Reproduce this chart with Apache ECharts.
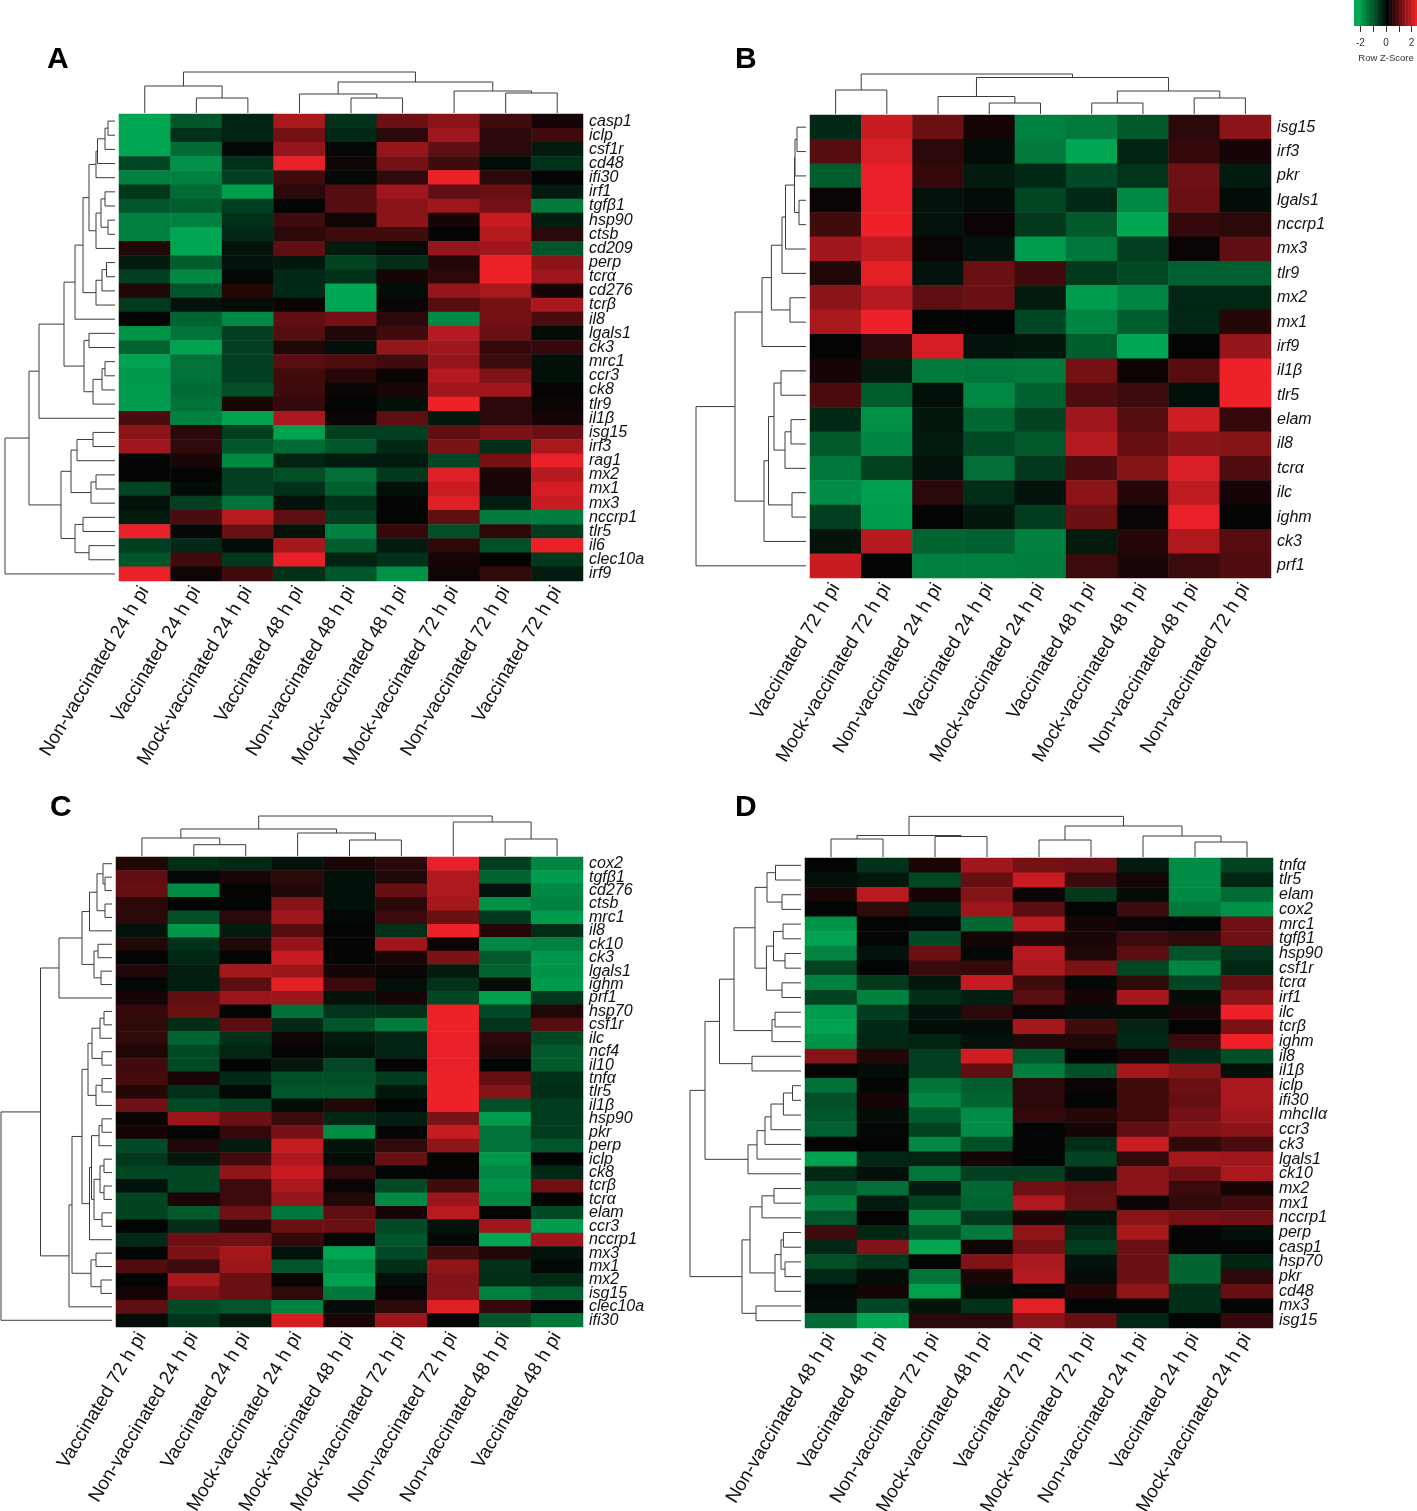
<!DOCTYPE html>
<html>
<head>
<meta charset="utf-8">
<script src="https://cdn.jsdelivr.net/npm/echarts@6/dist/echarts.min.js"></script>
<style>
html, body { margin: 0; padding: 0; background: #fff; }
#main { width: 1417px; height: 1511px; }
</style>
</head>
<body>
<div id="main"></div>
<script>
// row z-scores, one row per gene
var colsA = ['Non-vaccinated 24 h pi', 'Vaccinated 24 h pi', 'Mock-vaccinated 24 h pi', 'Vaccinated 48 h pi', 'Non-vaccinated 48 h pi', 'Mock-vaccinated 48 h pi', 'Mock-vaccinated 72 h pi', 'Non-vaccinated 72 h pi', 'Vaccinated 72 h pi'];
var rowsA = ['casp1', 'iclp', 'csf1r', 'cd48', 'ifi30', 'irf1', 'tgfβ1', 'hsp90', 'ctsb', 'cd209', 'perp', 'tcrα', 'cd276', 'tcrβ', 'il8', 'lgals1', 'ck3', 'mrc1', 'ccr3', 'ck8', 'tlr9', 'il1β', 'isg15', 'irf3', 'rag1', 'mx2', 'mx1', 'mx3', 'nccrp1', 'tlr5', 'il6', 'clec10a', 'irf9'];
var valuesA = [
  [-2.2, -1.1, -0.4, 1.6, -0.6, 1.0, 1.3, 0.6, 0.2],
  [-2.2, -0.6, -0.4, 1.1, -0.5, 0.4, 1.5, 0.4, 0.6],
  [-2.2, -1.4, -0.05, 1.4, -0.05, 1.4, 0.9, 0.4, -0.3],
  [-0.9, -1.9, -0.6, 2.2, 0.15, 1.1, 0.6, -0.1, -0.6],
  [-1.7, -1.7, -0.8, 0.6, -0.05, 0.45, 2.3, 0.4, 0],
  [-0.7, -1.4, -2.1, 0.4, 0.8, 1.5, 0.9, 1.0, -0.3],
  [-1.1, -1.2, -0.8, 0, 0.8, 1.3, 1.5, 1.1, -1.6],
  [-1.7, -1.7, -0.6, 0.6, 0.15, 1.3, 0.2, 1.9, -0.3],
  [-1.7, -2.2, -0.5, 0.4, 0.6, 0.6, 0, 1.7, 0.4],
  [0.3, -2.2, -0.2, 0.9, -0.3, -0.1, 1.4, 1.5, -1.1],
  [-0.3, -1.2, -0.2, -0.25, -0.85, -0.55, 0.3, 2.25, 1.3],
  [-0.8, -1.8, -0.05, -0.5, -0.6, 0.2, 0.4, 2.25, 1.5],
  [0.3, -1.1, 0.35, -0.5, -2.2, -0.1, 1.4, 1.6, 0.2],
  [-0.7, -0.2, -0.1, 0.1, -2.2, 0.1, 0.8, 1.1, 1.6],
  [0, -1.3, -1.8, 0.9, 1.1, 0.4, -1.8, 1.1, 0.7],
  [-1.95, -1.5, -0.8, 0.8, 0.3, 0.6, 1.7, 1.0, -0.1],
  [-1.3, -2.15, -0.8, 0.3, -0.15, 1.4, 1.5, 0.5, 0.5],
  [-2.15, -1.5, -0.8, 0.85, 0.75, 0.6, 1.4, 0.55, -0.15],
  [-2.0, -1.5, -0.8, 0.6, 0.35, 0.1, 1.7, 1.2, -0.15],
  [-2.05, -1.4, -1.0, 0.6, 0.1, 0.25, 1.5, 1.5, 0.05],
  [-2.05, -1.5, 0.25, 0.5, 0, -0.15, 2.25, 0.4, 0.1],
  [0.7, -1.7, -2.15, 1.6, 0.1, 0.9, -0.25, 0.4, 0.2],
  [1.3, 0.4, -0.8, -2.15, -0.8, -0.8, 0.9, 1.15, 1.0],
  [1.5, 0.45, -1.1, -1.4, -1.1, -0.5, 1.15, -0.55, 1.6],
  [0, 0.25, -1.8, -0.4, -0.3, -0.3, -0.9, 1.1, 2.2],
  [0, 0, -0.8, -1.0, -1.45, -0.7, 2.1, 0.25, 1.7],
  [-0.85, -0.1, -0.8, -0.6, -1.25, -0.15, 1.9, 0.2, 2.0],
  [-0.2, -0.8, -1.5, -0.2, -0.6, 0, 2.1, -0.35, 1.9],
  [-0.3, 0.7, 1.75, 0.9, -0.8, 0, 0.9, -1.6, -1.65],
  [2.2, -0.05, 1.0, -0.2, -1.7, 0.5, -1.0, 0.4, -0.75],
  [-0.8, -0.5, -0.1, 1.55, -1.2, -0.3, 0.4, -1.0, 2.2],
  [-1.1, 0.6, -0.7, 2.2, -0.4, -0.6, 0.2, 0.05, -0.7],
  [2.2, 0.15, 0.6, -0.6, -1.1, -1.9, 0.15, 0.45, -0.3]
];
// trees are nested [left, right, height], a number is a leaf index
var colTreeA = [[0, [1, 2, 16], 28], [[3, [4, 5, 16], 20], [6, [7, 8, 21], 23], 32], 42];
var a04 = [[[[0, 1, 11], 2, 14], 3, 21.5], 4, 23];
var a59 = [[[5, 6, 14], [7, 8, 11], 18], 9, 23];
var a1013 = [[[10, 11, 12.5], 12, 17], 13, 23];
var a014 = [[[a04, a59, 30], a1013, 36], 14, 44];
var a1520 = [[15, 16, 30], [[[17, 18, 14], 19, 17], 20, 26], 35];
var a021 = [[a014, a1520, 55], 21, 80];
var a2231 = [[[[22, 23, 26], 24, 42], [[25, 26, 23], 27, 28], 48], [[28, 29, 36], [30, 31, 30], 44], 58];
var rowTreeA = [[a021, a2231, 90], 32, 114];

var colsB = ['Vaccinated 72 h pi', 'Mock-vaccinated 72 h pi', 'Non-vaccinated 24 h pi', 'Vaccinated 24 h pi', 'Mock-vaccinated 24 h pi', 'Vaccinated 48 h pi', 'Mock-vaccinated 48 h pi', 'Non-vaccinated 48 h pi', 'Non-vaccinated 72 h pi'];
var rowsB = ['isg15', 'irf3', 'pkr', 'lgals1', 'nccrp1', 'mx3', 'tlr9', 'mx2', 'mx1', 'irf9', 'il1β', 'tlr5', 'elam', 'il8', 'tcrα', 'ilc', 'ighm', 'ck3', 'prf1'];
var valuesB = [
  [-0.5, 1.9, 1.0, 0.2, -1.7, -1.6, -1.15, 0.4, 1.3],
  [0.8, 2.05, 0.4, -0.1, -1.6, -2.2, -0.4, 0.5, 0.2],
  [-1.2, 2.2, 0.5, -0.3, -0.5, -0.95, -0.65, 1.05, -0.3],
  [0.1, 2.2, -0.2, -0.1, -0.9, -0.5, -1.8, 1.0, -0.1],
  [0.6, 2.25, -0.2, 0.1, -0.7, -1.15, -2.2, 0.5, 0.4],
  [1.5, 1.8, 0.1, -0.2, -2.05, -1.55, -0.8, 0.1, 0.9],
  [0.3, 2.15, -0.2, 1.0, 0.6, -0.7, -0.95, -1.25, -1.25],
  [1.3, 1.7, 0.9, 1.0, -0.3, -2.05, -1.75, -0.45, -0.45],
  [1.6, 2.3, 0, 0, -0.9, -1.75, -1.2, -0.45, 0.35],
  [0, 0.4, 2.0, -0.2, -0.25, -1.2, -2.2, 0, 1.4],
  [0.2, -0.3, -1.6, -1.55, -1.6, 1.1, 0.1, 0.8, 2.25],
  [0.7, -1.2, -0.15, -1.8, -1.25, 0.75, 0.55, -0.15, 2.25],
  [-0.5, -1.9, -0.25, -1.35, -0.85, 1.5, 0.8, 1.95, 0.5],
  [-1.15, -1.75, -0.3, -0.95, -1.15, 1.7, 0.95, 1.3, 1.25],
  [-1.55, -0.85, -0.2, -1.45, -0.7, 0.7, 1.25, 2.05, 0.75],
  [-1.85, -2.1, 0.4, -0.55, -0.2, 1.3, 0.35, 1.8, 0.2],
  [-0.8, -2.05, 0, -0.25, -0.75, 1.0, 0.1, 2.2, 0],
  [-0.2, 1.7, -1.3, -1.25, -1.7, -0.3, 0.35, 1.65, 0.8],
  [1.9, 0, -1.7, -1.7, -1.65, 0.55, 0.25, 0.55, 0.75]
];
var colTreeB = [[0, 1, 25], [[2, [3, 4, 12], 18.5], [[5, 6, 12], [7, 8, 17], 24], 37.5], 41];
var b04 = [[[0, 1, 13], 2, 15], [3, 4, 11], 15.5];
var b09 = [[[[b04, 5, 24.5], 6, 28], [7, 8, 20], 38.6], 9, 48];
var b1017 = [[[[10, 11, 29], [[12, 13, 19], 14, 25], 36], [15, 16, 18], 41.5], 17, 46];
var rowTreeB = [[b09, b1017, 75], 18, 114];

var colsC = ['Vaccinated 72 h pi', 'Non-vaccinated 24 h pi', 'Vaccinated 24 h pi', 'Mock-vaccinated 24 h pi', 'Mock-vaccinated 48 h pi', 'Mock-vaccinated 72 h pi', 'Non-vaccinated 72 h pi', 'Non-vaccinated 48 h pi', 'Vaccinated 48 h pi'];
var rowsC = ['cox2', 'tgfβ1', 'cd276', 'ctsb', 'mrc1', 'il8', 'ck10', 'ck3', 'lgals1', 'ighm', 'prf1', 'hsp70', 'csf1r', 'ilc', 'ncf4', 'il10', 'tnfα', 'tlr5', 'il1β', 'hsp90', 'pkr', 'perp', 'iclp', 'ck8', 'tcrβ', 'tcrα', 'elam', 'ccr3', 'nccrp1', 'mx3', 'mx1', 'mx2', 'isg15', 'clec10a', 'ifi30'];
var valuesC = [
  [0.3, -0.55, -0.5, -0.2, 0.25, 0.4, 2.2, -0.8, -1.75],
  [0.9, -0.05, 0.25, 0.4, -0.15, 0.3, 1.65, -1.3, -2.05],
  [0.95, -1.85, 0.05, 0.3, -0.15, 0.95, 1.65, -0.2, -1.8],
  [0.4, 0, 0, 1.25, -0.15, 0.4, 1.55, -1.9, -1.7],
  [0.4, -1.0, 0.4, 1.5, -0.05, 0.55, 1.0, -0.7, -2.05],
  [-0.2, -2.0, -0.3, 0.8, 0.05, -0.6, 2.25, 0.35, -0.55],
  [0.3, -0.6, 0.3, 1.4, 0.05, 1.5, 0.1, -1.8, -1.7],
  [0, -0.45, 0, 1.9, 0, 0.25, 1.15, -1.15, -2.0],
  [0.3, -0.35, 1.55, 1.45, 0.2, 0.1, -0.3, -1.3, -1.95],
  [-0.05, -0.35, 0.85, 2.15, 0.55, -0.15, -0.6, -0.1, -2.05],
  [0.2, 0.9, 1.45, 1.45, -0.2, 0.2, -0.9, -2.1, -0.7],
  [0.5, 1.0, 0, -1.45, -0.65, -0.6, 2.25, -0.95, 0.3],
  [0.45, -0.55, 0.85, -0.5, -1.1, -1.6, 2.25, -0.65, 0.8],
  [0.45, -1.3, -0.6, 0.15, -0.3, -0.4, 2.2, 0.4, -0.9],
  [0.3, -0.95, -0.45, 0, -0.2, -0.4, 2.2, 0.3, -1.15],
  [0.6, -0.95, 0, -0.25, -0.9, 0, 2.2, 0, -1.15],
  [0.65, 0.25, -0.5, -1.0, -1.0, -0.75, 2.25, 0.95, -0.6],
  [0.35, -0.6, -0.05, -1.1, -1.1, -0.25, 2.25, 1.25, -0.55],
  [1.05, -0.95, -0.8, -0.1, 0.3, 0, 2.25, -1.0, -0.75],
  [0.1, 1.45, 1.0, 0.55, -0.45, -0.35, 1.15, -2.05, -0.75],
  [0.2, 0, 0.5, 1.1, -1.85, 0, 1.85, -1.5, -0.75],
  [-0.95, 0.3, -0.3, 1.85, -0.2, 0.45, 1.35, -1.5, -1.1],
  [-0.7, -0.25, 0.6, 1.65, -0.1, 0.95, 0.05, -2.0, 0],
  [-0.9, -0.9, 1.35, 1.9, 0.45, 0, 0.05, -1.8, -0.5],
  [-0.2, -0.9, 0.55, 1.6, 0.1, -0.95, 0.6, -1.95, 1.05],
  [-0.85, 0.25, 0.55, 1.4, 0.3, -1.8, 1.45, -1.8, 0],
  [-0.85, -1.15, 1.05, -1.55, 0.9, 0.2, 1.75, 0, -0.95],
  [0, -0.55, 0.35, 1.0, 1.0, -0.95, -0.2, 1.5, -2.05],
  [-0.5, 1.05, 1.05, 0.5, -0.05, -1.1, -0.05, -2.2, 1.5],
  [0, 1.15, 1.55, -0.2, -2.2, -0.95, 0.6, 0.3, -0.2],
  [0.75, 0.55, 1.45, -1.1, -1.9, -0.55, 1.35, -0.6, -0.05],
  [0, 1.6, 1.0, 0.1, -2.15, -0.15, 1.2, -0.55, -0.5],
  [0.2, 1.2, 1.0, 0.45, -1.55, 0.1, 1.25, -1.7, -1.25],
  [0.9, -0.95, -1.1, -1.7, -0.1, 0.4, 2.1, 0.5, 0],
  [-0.1, -0.65, -0.25, 2.0, 0.25, 1.45, 0, -1.1, -1.55]
];
var colTreeC = [[[0, [1, 2, 12.3], 19], [3, [4, 5, 17], 24], 28], [6, [7, 8, 18], 35], 41];
var c05 = [[[0, [1, 2, 11], 13], [3, 4, 11], 19], 5, 26.5];
var c010 = [[c05, [[6, 7, 18], [8, 9, 15], 22], 34], 10, 57];
var c1118 = [[[[11, 12, 12], 13, 16], [14, 15, 14], 24], [[16, 17, 14], 18, 20], 28];
var c1928 = [[[[19, 20, 14], 21, 17], [[[22, 23, 12], [24, 25, 12], 16], [26, 27, 14], 22], 24.5], 28, 26.5];
var c2932 = [[29, 30, 20], [31, 32, 15], 25];
var c1133 = [[[c1118, c1928, 34], c2932, 44], 33, 47];
var rowTreeC = [[c010, c1133, 75.5], 34, 115];

var colsD = ['Non-vaccinated 48 h pi', 'Vaccinated 48 h pi', 'Non-vaccinated 72 h pi', 'Mock-vaccinated 48 h pi', 'Vaccinated 72 h pi', 'Mock-vaccinated 72 h pi', 'Non-vaccinated 24 h pi', 'Vaccinated 24 h pi', 'Mock-vaccinated 24 h pi'];
var rowsD = ['tnfα', 'tlr5', 'elam', 'cox2', 'mrc1', 'tgfβ1', 'hsp90', 'csf1r', 'tcrα', 'irf1', 'ilc', 'tcrβ', 'ighm', 'il8', 'il1β', 'iclp', 'ifi30', 'mhcIIα', 'ccr3', 'ck3', 'lgals1', 'ck10', 'mx2', 'mx1', 'nccrp1', 'perp', 'casp1', 'hsp70', 'pkr', 'cd48', 'mx3', 'isg15'];
var valuesD = [
  [0, -0.6, 0.25, 1.5, 1.1, 1.05, -0.3, -1.85, -0.85],
  [-0.15, -0.25, -0.9, 0.95, 1.9, 0.55, 0.2, -1.85, -0.45],
  [0.25, 1.75, 0.2, 1.25, 0.1, -0.7, -0.1, -1.8, -1.4],
  [0, 0.45, -0.4, 1.5, 0.85, 0, 0.55, -1.6, -1.9],
  [-1.95, 0, -0.05, -1.35, 1.75, 0.2, 0.1, 0, 1.05],
  [-2.15, 0, -0.95, 0.2, 0.3, 0.25, 0.55, 0.45, 1.05],
  [-1.75, -0.2, 1.0, -0.05, 1.7, 0.3, 0.85, -1.05, -0.65],
  [-0.85, 0, 0.55, 0.5, 1.6, 1.15, -0.9, -1.75, -0.45],
  [-1.7, -0.7, -0.25, 1.85, 0.6, -0.05, 0.45, -0.9, 0.95],
  [-0.85, -1.7, -0.55, -0.35, 0.85, 0.2, 1.55, -0.1, 1.3],
  [-2.05, -0.75, -0.2, 0.4, 0.1, -0.1, -0.1, 0.25, 2.3],
  [-2.15, -0.5, -0.1, -0.1, 1.55, 0.6, -0.4, 0, 1.15],
  [-1.95, -0.45, -0.4, -0.2, 0.3, 0.3, -0.5, 0.55, 2.3],
  [1.25, 0.3, -0.8, 1.95, -1.15, 0, 0.2, -0.5, -1.0],
  [0, -0.1, -0.8, 0.9, -1.65, -1.0, 1.55, 1.25, -0.15],
  [-1.45, 0, -1.5, -1.2, 0.4, 0.1, 0.6, 1.0, 1.6],
  [-1.0, 0.2, -1.75, -1.3, 0.4, 0, 0.6, 0.95, 1.6],
  [-1.1, -0.1, -1.2, -1.85, 0.5, 0.35, 0.6, 1.1, 1.5],
  [-1.25, -0.05, -0.85, -1.85, 0, 0.2, 0.9, 1.2, 1.3],
  [0, 0.05, -1.8, -1.0, 0, -0.55, 1.9, 0.45, 0.7],
  [-2.15, -0.45, -0.4, 0.2, 0, -0.85, 0.45, 1.55, 1.5],
  [-0.5, -0.15, -1.55, -0.8, -0.8, -0.2, 1.3, 1.05, 1.6],
  [-1.2, -1.45, -0.3, -1.35, 1.05, 0.9, 1.3, 0.55, 0.2],
  [-1.65, -0.3, -0.85, -1.3, 1.65, 0.95, 0.1, 0.45, 0.6],
  [-1.1, 0, -1.8, -0.7, 0.25, -0.2, 1.3, 1.1, 1.05],
  [0.6, -0.45, -1.05, -1.6, 1.35, -0.5, 1.6, 0, -0.15],
  [-0.45, 1.2, -2.2, 0.15, 1.1, -0.75, 1.0, 0, 0],
  [-1.0, -0.7, 0, 1.2, 1.6, -0.2, 1.0, -1.3, -0.4],
  [-0.45, -0.1, -1.5, 0.25, 1.7, -0.1, 1.0, -1.3, 0.4],
  [-0.05, 0.2, -2.1, -0.1, -0.05, 0.35, 1.35, -0.55, 0.95],
  [-0.1, -0.9, -0.2, -0.6, 2.15, 0, 0, -0.55, 0],
  [-1.4, -2.2, 0.4, 0.4, 1.3, 0.95, -0.45, 0, 0.5]
];
var colTreeD = [[[0, 1, 19], [2, 3, 21.5], 22.5], [[4, 5, 18], [6, [7, 8, 16], 22], 32], 41.6];
var d03 = [[0, 1, 29.5], [2, 3, 23], 38];
var d49 = [[[4, 5, 22], [6, 7, 20], 31.5], [8, 9, 23], 38.6];
var d014 = [[[d03, d49, 50], [[10, 11, 30], 12, 33], 71], [13, 14, 53], 85.5];
var d1521 = [[[[[[15, 16, 12.5], 17, 21.6], 18, 34], 19, 40], 20, 48], 21, 57];
var d2231 = [[[[22, 23, 31], 24, 43], [[[25, 26, 21.6], [27, 28, 20], 24], 29, 30], 55], [30, 31, 49], 63];
var rowTreeD = [[d014, d1521, 100], d2231, 115];

var keyLevels = [-2.5, -2.25, -2, -1.75, -1.5, -1.25, -1, -0.75, -0.5, -0.25, 0, 0.25, 0.5, 0.75, 1, 1.25, 1.5, 1.75, 2, 2.25];
var keyTicks = [-2, -1, 0, 1, 2];
var keyLabels = [-2, 0, 2];

var panels = [
  { name: 'A', cols: colsA, rows: rowsA, values: valuesA, colTree: colTreeA, rowTree: rowTreeA, left: 119, top: 114, width: 464, height: 467, nameX: 46, nameY: 42 },
  { name: 'B', cols: colsB, rows: rowsB, values: valuesB, colTree: colTreeB, rowTree: rowTreeB, left: 810, top: 115, width: 461, height: 463, nameX: 734, nameY: 42 },
  { name: 'C', cols: colsC, rows: rowsC, values: valuesC, colTree: colTreeC, rowTree: rowTreeC, left: 116, top: 857, width: 467, height: 470, nameX: 49, nameY: 790 },
  { name: 'D', cols: colsD, rows: rowsD, values: valuesD, colTree: colTreeD, rowTree: rowTreeD, left: 805, top: 858, width: 468, height: 470, nameX: 734, nameY: 790 }
];

var FONT = '"Liberation Sans", Arial, sans-serif';

// walk a tree, return the stem position and height, push the three lines of each merge
function treeLines(node, out, stem) {
  if (typeof node === 'number') return { pos: node + 0.5, h: stem };
  var a = treeLines(node[0], out, stem);
  var b = treeLines(node[1], out, stem);
  var h = node[2];
  out.push([a.pos, a.h, a.pos, h]);
  out.push([b.pos, b.h, b.pos, h]);
  out.push([a.pos, h, b.pos, h]);
  return { pos: (a.pos + b.pos) / 2, h: h };
}

function renderLine(params, api) {
  var p1 = api.coord([api.value(0), api.value(1)]);
  var p2 = api.coord([api.value(2), api.value(3)]);
  return {
    type: 'line',
    shape: { x1: p1[0], y1: p1[1], x2: p2[0], y2: p2[1] },
    style: { stroke: '#3c3c3c', lineWidth: 1 }
  };
}

function renderKey(params, api) {
  var p1 = api.coord([api.value(0), 1]);
  var p2 = api.coord([api.value(0) + 0.25, 0]);
  return {
    type: 'rect',
    shape: { x: p1[0], y: p1[1], width: p2[0] - p1[0] + 0.5, height: p2[1] - p1[1] },
    style: { fill: api.visual('color') }
  };
}

var grid = [], xAxis = [], yAxis = [], series = [], title = [], heatIdx = [];
var hidden = { show: false };

panels.forEach(function (p) {
  var nc = p.cols.length, nr = p.rows.length;
  title.push({ text: p.name, left: p.nameX - 4, top: p.nameY - 2, textStyle: { fontFamily: FONT, fontSize: 30, fontWeight: 'bold', color: '#000' } });

  // heat cells, outerBoundsMode none or v6 shrinks the grid to fit the long labels
  var g = grid.length;
  grid.push({ left: p.left, top: p.top, width: p.width, height: p.height, outerBoundsMode: 'none' });
  xAxis.push({
    type: 'category', gridIndex: g, data: p.cols, position: 'bottom',
    axisLine: hidden, axisTick: hidden, splitLine: hidden,
    axisLabel: { interval: 0, rotate: 59, margin: 7, fontFamily: FONT, fontSize: 19, color: '#111' }
  });
  yAxis.push({
    type: 'category', gridIndex: g, data: p.rows, inverse: true, position: 'right',
    axisLine: hidden, axisTick: hidden, splitLine: hidden,
    axisLabel: { interval: 0, margin: 6, fontFamily: FONT, fontSize: 16, fontStyle: 'italic', color: '#111' }
  });
  var cells = [];
  p.values.forEach(function (row, r) {
    row.forEach(function (v, c) { cells.push([c, r, v]); });
  });
  heatIdx.push(series.length);
  series.push({ type: 'heatmap', xAxisIndex: g, yAxisIndex: g, data: cells, progressive: 0, animation: false });

  // column tree above the cells
  var topLines = [];
  treeLines(p.colTree, topLines, 1);
  g = grid.length;
  grid.push({ left: p.left, top: p.top - 46, width: p.width, height: 46, outerBoundsMode: 'none' });
  xAxis.push({ type: 'value', gridIndex: g, min: 0, max: nc, show: false });
  yAxis.push({ type: 'value', gridIndex: g, min: 0, max: 46, show: false });
  series.push({ type: 'custom', xAxisIndex: g, yAxisIndex: g, data: topLines, renderItem: renderLine, silent: true, animation: false, clip: false, encode: { x: [0, 2], y: [1, 3] } });

  // row tree left of the cells, axis x is merge height, axis y is row
  var leftLines = [];
  treeLines(p.rowTree, leftLines, 4);
  leftLines = leftLines.map(function (s) { return [s[1], s[0], s[3], s[2]]; });
  g = grid.length;
  grid.push({ left: p.left - 116, top: p.top, width: 116, height: p.height, outerBoundsMode: 'none' });
  xAxis.push({ type: 'value', gridIndex: g, min: 0, max: 116, inverse: true, show: false });
  yAxis.push({ type: 'value', gridIndex: g, min: 0, max: nr, inverse: true, show: false });
  series.push({ type: 'custom', xAxisIndex: g, yAxisIndex: g, data: leftLines, renderItem: renderLine, silent: true, animation: false, clip: false, encode: { x: [0, 2], y: [1, 3] } });
});

// colour key, top right corner
var k = grid.length;
grid.push({ left: 1354, top: 0, width: 64, height: 26, outerBoundsMode: 'none' });
xAxis.push({
  type: 'value', gridIndex: k, min: -2.5, max: 2.5, position: 'bottom',
  splitLine: hidden, axisLine: hidden,
  axisTick: { show: true, length: 6, customValues: keyTicks, lineStyle: { color: '#333' } },
  axisLabel: { margin: 12, customValues: keyLabels, fontFamily: FONT, fontSize: 10, color: '#333' },
  name: 'Row Z-Score', nameLocation: 'middle', nameGap: 27,
  nameTextStyle: { fontFamily: FONT, fontSize: 9.5, color: '#333' }
});
yAxis.push({ type: 'value', gridIndex: k, min: 0, max: 1, show: false });
heatIdx.push(series.length);
series.push({
  type: 'custom', xAxisIndex: k, yAxisIndex: k, silent: true, animation: false,
  data: keyLevels.map(function (z) { return [z, 0, z]; }), renderItem: renderKey, encode: { x: 0, y: 1 }
});

var chart = echarts.init(document.getElementById('main'), null, { renderer: 'canvas', width: 1417, height: 1511 });
chart.setOption({
  backgroundColor: '#ffffff',
  animation: false,
  title: title,
  grid: grid,
  xAxis: xAxis,
  yAxis: yAxis,
  visualMap: {
    show: false, type: 'continuous', min: -2.2, max: 2.25, dimension: 2, seriesIndex: heatIdx,
    inRange: { color: ['#00a651', '#030303', '#ee2128'] }
  },
  series: series
});
</script>
</body>
</html>
